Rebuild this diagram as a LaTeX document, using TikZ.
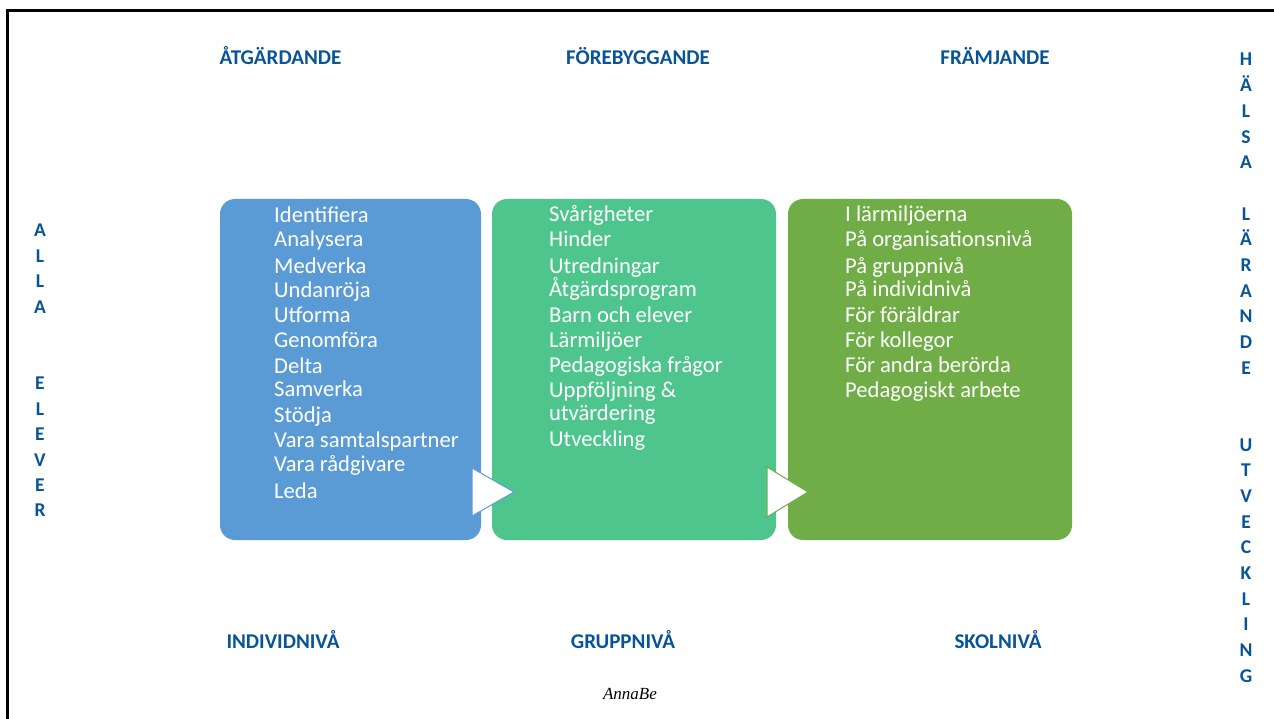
\documentclass[tikz,border=0pt]{standalone}
\usepackage{fontspec}
\setmainfont{Carlito}
\newfontfamily\signfont{Liberation Serif}
\definecolor{hdrblue}{RGB}{8,84,150}
\definecolor{boxblue}{RGB}{91,155,213}
\definecolor{boxgreen}{RGB}{79,197,142}
\definecolor{boxdark}{RGB}{112,173,71}
\tikzset{
  hdr/.style={font=\fontsize{21}{23}\selectfont\bfseries, text=hdrblue, anchor=base, inner sep=0pt},
  sideletter/.style={font=\fontsize{19.5}{21}\selectfont\bfseries, text=hdrblue, anchor=base, inner sep=0pt},
  item/.style={font=\fontsize{22.6}{24}\selectfont, text=white, anchor=base west, inner sep=0pt},
  panel/.style={rounded corners=15pt, draw=none},
  tri/.style={fill=white, line width=1pt, line join=miter}
}
\begin{document}
\begin{tikzpicture}[x=1pt,y=-1pt]
\useasboundingbox (0,0) rectangle (1274,719);
\fill[white] (0,0) rectangle (1274,719);
% frame
\draw[line width=3pt] (7,730) -- (7,10.5) -- (1290,10.5);

% panels
\fill[panel, boxblue] (220,199) rectangle (481,540);
\node[inner sep=0pt] (pblue) at (350.5,369.5) {};
\fill[panel, boxgreen] (492,199) rectangle (776,540);
\node[inner sep=0pt] (pgreen) at (634,369.5) {};
\fill[panel, boxdark] (788,199) rectangle (1072,540);
\node[inner sep=0pt] (pdark) at (930,369.5) {};

% arrows
\filldraw[tri, draw=boxblue] (472,468) -- (514,492) -- (472,516) -- cycle;
\filldraw[tri, draw=boxdark] (767,467) -- (808,492) -- (767,517) -- cycle;

% headers
\node[hdr] (h1) at (280.5,65) {ÅTGÄRDANDE};
\node[hdr] (h2) at (638,65) {FÖREBYGGANDE};
\node[hdr] (h3) at (995,65) {FRÄMJANDE};
\node[hdr] (b1) at (283,648) {INDIVIDNIVÅ};
\node[hdr] (b2) at (623,648) {GRUPPNIVÅ};
\node[hdr] (b3) at (998,648) {SKOLNIVÅ};

\node[font=\fontsize{17}{19}\selectfont\signfont\itshape, anchor=base, inner sep=0pt] (sign) at (630,699) {AnnaBe};

% left vertical
\foreach \l [count=\i from 0] in {A,L,L,A,{},{},E,L,E,V,E,R}{
  \node[sideletter] (left\i) at (40,{237+25.45*\i}) {\l};
}
% right vertical
\foreach \l [count=\i from 0] in {H,Ä,L,S,A,{},L,Ä,R,A,N,D,E,{},{},U,T,V,E,C,K,L,I,N,G}{
  \node[sideletter] (right\i) at (1246,{66+25.67*\i}) {\l};
}

% blue items
\node[item] (a1) at (274,223) {Identifiera};
\node[item] (a2) at (274,247) {Analysera};
\node[item] (a3) at (274,273) {Medverka};
\node[item] (a4) at (274,298) {Undanröja};
\node[item] (a5) at (274,322) {Utforma};
\node[item] (a6) at (274,347) {Genomföra};
\node[item] (a7) at (274,373) {Delta};
\node[item] (a8) at (274,396) {Samverka};
\node[item] (a9) at (274,422) {Stödja};
\node[item] (a10) at (274,447) {Vara samtalspartner};
\node[item] (a11) at (274,471) {Vara rådgivare};
\node[item] (a12) at (274,498) {Leda};

% green items
\node[item] (g1) at (549,222) {Svårigheter};
\node[item] (g2) at (549,247) {Hinder};
\node[item] (g3) at (549,273) {Utredningar};
\node[item] (g4) at (549,297) {Åtgärdsprogram};
\node[item] (g5) at (549,322) {Barn och elever};
\node[item] (g6) at (549,347) {Lärmiljöer};
\node[item] (g7) at (549,372) {Pedagogiska frågor};
\node[item] (g8) at (549,397) {Uppföljning \&};
\node[item] (g9) at (549,420) {utvärdering};
\node[item] (g10) at (549,446) {Utveckling};

% dark green items
\node[item] (d1) at (845,222) {I lärmiljöerna};
\node[item] (d2) at (845,247) {På organisationsnivå};
\node[item] (d3) at (845,273) {På gruppnivå};
\node[item] (d4) at (845,297) {På individnivå};
\node[item] (d5) at (845,322) {För föräldrar};
\node[item] (d6) at (845,347) {För kollegor};
\node[item] (d7) at (845,372) {För andra berörda};
\node[item] (d8) at (845,397) {Pedagogiskt arbete};
\end{tikzpicture}
\end{document}
